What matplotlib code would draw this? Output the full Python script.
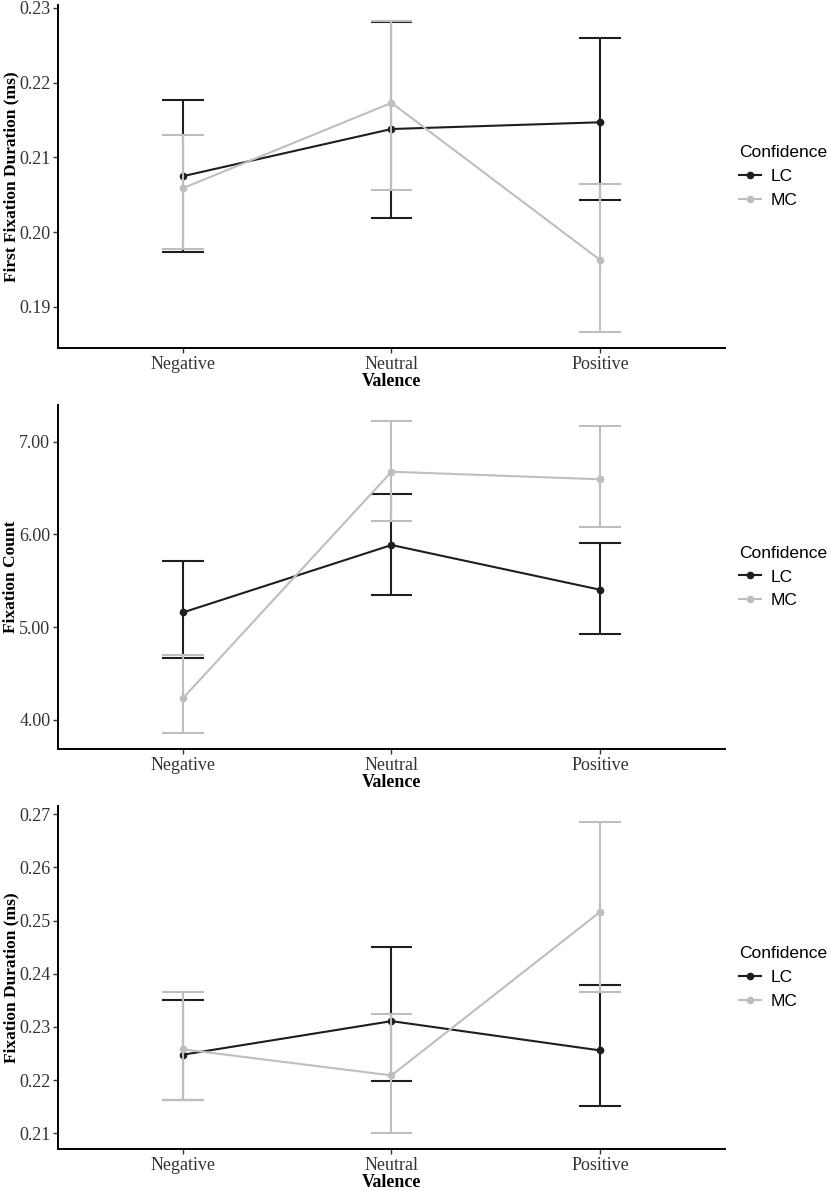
import matplotlib as mpl
mpl.use("Agg")
import matplotlib.pyplot as plt
from matplotlib.ticker import FormatStrFormatter, MultipleLocator

valence = ["Negative", "Neutral", "Positive"]
groups = ["LC", "MC"]

# First fixation duration (ms)
ffd_lc_mean = [0.2075, 0.2138, 0.2147]
ffd_lc_low = [0.1973, 0.2019, 0.2043]
ffd_lc_high = [0.2177, 0.2281, 0.2260]
ffd_mc_mean = [0.2059, 0.2173, 0.1963]
ffd_mc_low = [0.1977, 0.2057, 0.1866]
ffd_mc_high = [0.2130, 0.2283, 0.2064]

# Fixation count
fc_lc_mean = [5.158, 5.885, 5.403]
fc_lc_low = [4.662, 5.349, 4.924]
fc_lc_high = [5.716, 6.432, 5.910]
fc_mc_mean = [4.234, 6.676, 6.594]
fc_mc_low = [3.853, 6.144, 6.083]
fc_mc_high = [4.701, 7.227, 7.169]

# Fixation duration (ms)
fd_lc_mean = [0.2248, 0.2311, 0.2256]
fd_lc_low = [0.2163, 0.2199, 0.2152]
fd_lc_high = [0.2350, 0.2450, 0.2379]
fd_mc_mean = [0.2258, 0.2209, 0.2516]
fd_mc_low = [0.2162, 0.2100, 0.2365]
fd_mc_high = [0.2366, 0.2325, 0.2686]

colors = {"LC": "#1e1e1e", "MC": "#bebebe"}
SERIF = "Liberation Serif"
SANS = "Liberation Sans"


def draw_panel(ax, series, ylabel, step):
    x = list(range(1, len(valence) + 1))
    for name in groups:
        mean, low, high = series[name]
        color = colors[name]
        ax.plot(x, mean, color=color, lw=1.5, marker="o", ms=4.5, label=name, zorder=3)
        ax.vlines(x, low, high, color=color, lw=1.5, zorder=3)
        ax.hlines(low, [v - 0.1 for v in x], [v + 0.1 for v in x], color=color, lw=1.5, zorder=3)
        ax.hlines(high, [v - 0.1 for v in x], [v + 0.1 for v in x], color=color, lw=1.5, zorder=3)

    ax.set_xlim(0.4, 3.6)
    ax.set_xticks(x)
    ax.set_xticklabels(valence, fontfamily=SERIF, fontsize=13, color="#333333")
    ax.yaxis.set_major_locator(MultipleLocator(step))
    ax.yaxis.set_major_formatter(FormatStrFormatter("%.2f"))
    for lab in ax.get_yticklabels():
        lab.set_fontfamily(SERIF)
        lab.set_fontsize(13)
        lab.set_color("#333333")
    ax.tick_params(axis="both", length=3.5, width=1, color="#333333")
    ax.tick_params(axis="x", pad=2)
    ax.tick_params(axis="y", pad=2)
    for side in ["top", "right"]:
        ax.spines[side].set_visible(False)
    for side in ["left", "bottom"]:
        ax.spines[side].set_linewidth(1.4)
        ax.spines[side].set_color("black")

    ax.set_xlabel("Valence", fontfamily=SERIF, fontweight="bold", fontsize=13, labelpad=0)
    ax.set_ylabel(ylabel, fontfamily=SERIF, fontweight="bold", fontsize=12.5)
    ax.yaxis.set_label_coords(-0.058, 0.5)

    leg = ax.legend(
        title="Confidence",
        loc="center left",
        bbox_to_anchor=(1.0, 0.5),
        borderaxespad=0.4,
        frameon=False,
        prop={"family": SANS, "size": 12.5},
        title_fontproperties={"family": SANS, "size": 12.5},
        handlelength=1.25,
        handletextpad=0.6,
        labelspacing=0.5,
        alignment="left",
    )
    return leg


fig = plt.figure(figsize=(8.29, 11.91), dpi=100)
left = 58 / 829
width = 667 / 829
# (top_px, bottom_px) for each panel
panel_px = [(5, 348), (405, 749), (806, 1149)]
axes = []
for top, bottom in panel_px:
    axes.append(fig.add_axes([left, 1 - bottom / 1191, width, (bottom - top) / 1191]))

draw_panel(
    axes[0],
    {"LC": (ffd_lc_mean, ffd_lc_low, ffd_lc_high), "MC": (ffd_mc_mean, ffd_mc_low, ffd_mc_high)},
    "First Fixation Duration (ms)",
    0.01,
)
draw_panel(
    axes[1],
    {"LC": (fc_lc_mean, fc_lc_low, fc_lc_high), "MC": (fc_mc_mean, fc_mc_low, fc_mc_high)},
    "Fixation Count",
    1.0,
)
draw_panel(
    axes[2],
    {"LC": (fd_lc_mean, fd_lc_low, fd_lc_high), "MC": (fd_mc_mean, fd_mc_low, fd_mc_high)},
    "Fixation Duration (ms)",
    0.01,
)

fig.savefig("out.png", dpi=100)
